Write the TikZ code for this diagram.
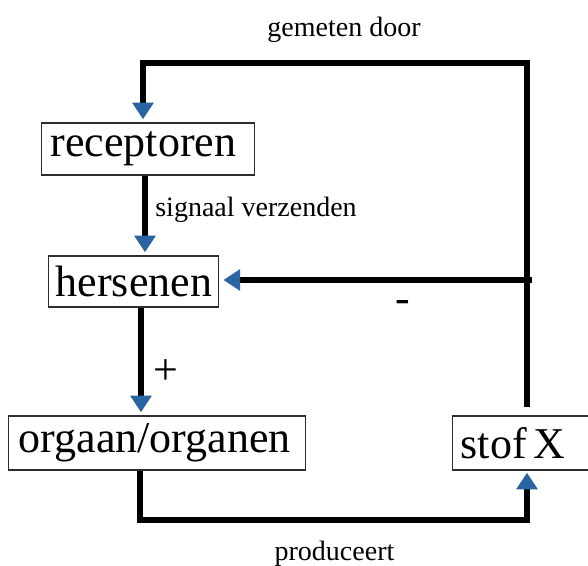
\documentclass[tikz,border=0pt]{standalone}
\usepackage{fontspec}
\setmainfont{Liberation Serif}
\usetikzlibrary{arrows.meta,calc}
\definecolor{tipblue}{RGB}{40,100,160}
\definecolor{frame}{RGB}{45,45,45}
\begin{document}
\begin{tikzpicture}[x=0.75pt,y=-0.75pt,
  box/.style={draw=frame,line width=1.1pt,rectangle,inner ysep=0pt,
    font=\fontsize{33}{40}\selectfont,align=left,anchor=west},
  link/.style={line width=4.5pt,line join=miter,draw=black},
  tip/.style={-{Triangle[length=12.5pt,width=15.5pt,color=tipblue]}},
  lbl/.style={font=\fontsize{21}{25}\selectfont,anchor=base,inner sep=0pt},
  sym/.style={font=\fontsize{33}{40}\selectfont,inner sep=0pt}
]
\useasboundingbox (0,0) rectangle (588,566);

% boxes
\node[box,inner xsep=6.75pt,text width=146.25pt,minimum height=39pt] (rec) at (41,149) {receptoren};
\node[box,inner xsep=5.25pt,text width=117pt,minimum height=38.25pt] (her) at (48,281.5) {hersenen};
\node[box,inner xsep=7.5pt,text width=207.75pt,minimum height=40.5pt] (org) at (8,443) {orgaan/organen};
\node[box,inner xsep=6pt,text width=100.5pt,minimum height=40.5pt] (stof) at (452,443) {stof\hspace{5pt}X};

% routing points
\coordinate (topL) at (143,63);
\coordinate (topR) at (527,63);
\coordinate (botL) at (140,520);
\coordinate (botR) at (527,520);
\coordinate (junc) at (532,280);
\coordinate (colA) at (145,0);
\coordinate (colB) at (141,0);

% connectors
\draw[link,tip,shorten <=6pt,shorten >=2.25pt] (stof.north -| topR) -- (topR) -- (topL) -- (rec.north -| topL);
\draw[link,tip,shorten >=3pt] (junc) -- (her.east |- junc);
\draw[link,tip,shorten >=2.25pt] (rec.south -| colA) -- (her.north -| colA);
\draw[link,tip,shorten >=2.25pt] (her.south -| colB) -- (org.north -| colB);
\draw[link,tip,shorten >=1.5pt] (org.south -| botL) -- (botL) -- (botR) -- (stof.south -| botR);

% labels
\node[lbl] (gem) at (344,37) {gemeten door};
\node[lbl] (sig) at (256,217) {signaal verzenden};
\node[lbl] (prod) at (334.5,560) {produceert};
\node[sym] (minus) at (403,306) {-};
\node[sym] (plus) at (166,372) {+};
\end{tikzpicture}
\end{document}
